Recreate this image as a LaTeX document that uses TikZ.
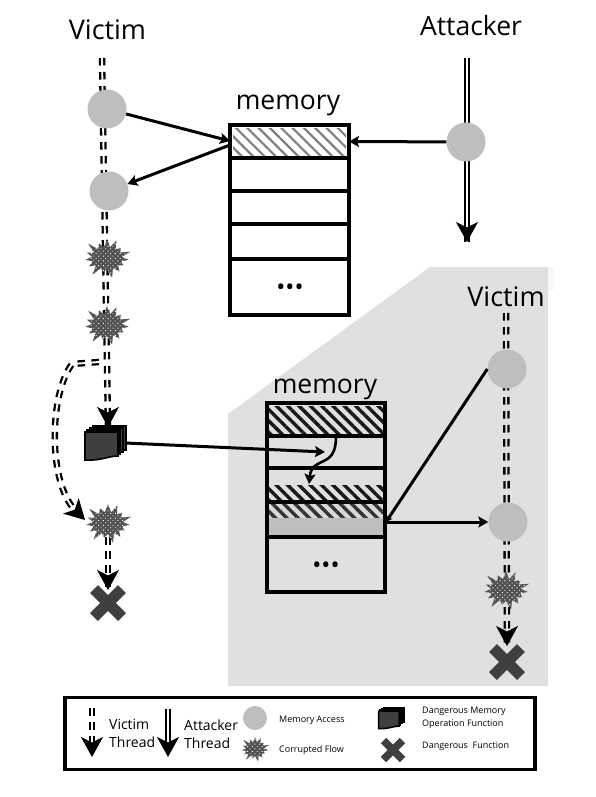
\documentclass[tikz,border=0pt]{standalone}
\usepackage{fontspec}
\setmainfont{Open Sans}
\usetikzlibrary{arrows.meta,patterns,patterns.meta,shapes.symbols}
\definecolor{panelgray}{HTML}{E0E0E0}
\definecolor{accessgray}{HTML}{BEBEBE}
\definecolor{darkmark}{HTML}{3F3F3F}
\newcommand{\fsz}[1]{\fontsize{#1}{#1}\selectfont}
\tikzset{
  thread base/.style={line width=6.5pt, draw=black, postaction={draw=#1, line width=1.9pt, solid}},
  vthread/.style={thread base=#1, dash pattern=on 7.5pt off 6.5pt},
  vthread/.default=white,
  athread/.style={thread base=white},
  tiphead/.style={line width=1pt, black, solid, -{Stealth[length=20pt,width=22pt,inset=5.5pt]}},
  access/.style={circle, fill=accessgray, inner sep=0pt, minimum size=#1},
  access/.default=39pt,
  burst/.style={starburst, starburst points=15, starburst point height=11pt, fill=black!68, minimum width=52pt, minimum height=44pt, inner sep=0pt,
     postaction={pattern={Dots[distance=3.4pt,angle=45,radius=0.65pt]}, pattern color=white}},
  cell/.style={rectangle, draw=black, line width=3.6pt, inner sep=0pt, outer sep=0pt},
  link/.style={line width=3pt, black, -{Stealth[length=10pt,width=11pt,inset=2pt]}},
  hatchb/.style={pattern={Lines[angle=-45,distance=8pt,line width=3.4pt]}, pattern color=#1},
  hatchg/.style={pattern={Lines[angle=-45,distance=8pt,line width=2.2pt]}, pattern color=#1},
  title/.style={font=\fsz{26.5}},
  bigtitle/.style={font=\fsz{27}},
  legtext/.style={font=\fontsize{14}{18}\selectfont, align=left, anchor=west, inner sep=0pt},
  legsmall/.style={font=\fontsize{9}{12.5}\selectfont, align=left, anchor=west, inner sep=0pt},
  dots/.style={font=\fsz{24}},
  pics/deadx/.style={code={
    \draw[darkmark, line width=#1*0.4pt] (-#1*0.5pt,-#1*0.5pt) -- (#1*0.5pt,#1*0.5pt);
    \draw[darkmark, line width=#1*0.4pt] (-#1*0.5pt,#1*0.5pt) -- (#1*0.5pt,-#1*0.5pt);
  }},
  pics/docstack/.style={code={
    \begin{scope}[scale=#1]
    \foreach \d in {8,5,2}{
      \filldraw[fill=darkmark, draw=black, line width=1.6pt]
        (-20+\d,-12-\d*0.6) -- (13+\d,-12-\d*0.6) -- (13+\d,12-\d*0.6) -- (-20+\d,12-\d*0.6) -- cycle;
    }
    \filldraw[fill=darkmark, draw=black, line width=1.6pt]
      (-20,-11) -- (13,-11) -- (13,13) .. controls (3,13) and (-4,18) .. (-20,17) -- cycle;
    \end{scope}
  }}
}
\begin{document}
\begin{tikzpicture}[x=1pt,y=-1pt]
\useasboundingbox (0,0) rectangle (596,797);
% panel
\fill[black!3] (548,267) rectangle (554,290);
\fill[panelgray] (228,414) -- (430,267) -- (548,267) -- (548,686) -- (228,686) -- cycle;

% anchors of the thread stations
\coordinate (vtop) at (102,58);
\coordinate (pa) at (107,109);
\coordinate (pb) at (109,191);
\coordinate (pc) at (107,258);
\coordinate (pd) at (107,325);
\coordinate (ftail) at (108,412);
\coordinate (ftip) at (108,427);
\coordinate (pe) at (108,523);
\coordinate (xtail) at (108,575);
\coordinate (xtip) at (108,590);
\coordinate (branch) at (99,362);
\coordinate (ctail) at (75,510);
\coordinate (ctip) at (85,520);
\coordinate (atop) at (467,58);
\coordinate (atail) at (467,230);
\coordinate (atip) at (467,242);
\coordinate (wtop) at (506,313);
\coordinate (pf) at (507,369);
\coordinate (pg) at (508,522);
\coordinate (ph) at (506,590);
\coordinate (wtail) at (507,632);
\coordinate (wtip) at (507,646);

% threads
\draw[vthread] (vtop) -- (ftip);
\draw[tiphead] (ftail) -- (ftip);
\draw[vthread] (branch) -- (72,364) .. controls (49,395) and (48,482) .. (ctail);
\draw[tiphead] (ctail) -- (ctip);
\draw[vthread] (pe) -- (xtip);
\draw[tiphead] (xtail) -- (xtip);
\draw[athread] (atop) -- (atip);
\draw[tiphead] (atail) -- (atip);
\draw[vthread=panelgray] (wtop) -- (wtip);
\draw[tiphead] (wtail) -- (wtip);

% stations
\node[access] (ca) at (pa) {};
\node[access] (cb) at (pb) {};
\node[burst] (sa) at (pc) {};
\node[burst] (sb) at (pd) {};
\node[burst] (sc) at (pe) {};
\node[access] (cc) at (466,142) {};
\node[access] (cd) at (pf) {};
\node[access] (ce) at (pg) {};
\node[burst] (sd) at (ph) {};
\pic at (108,603) {deadx=28};
\pic at (507,662) {deadx=28};
\pic at (105,443) {docstack=1};
\node[inner sep=0pt, minimum width=41pt, minimum height=34pt] (file) at (104.5,443) {};

% top memory
\fill[hatchg=black!50] (233,128) rectangle (346,155);
\node[cell, minimum width=119pt, minimum height=33pt] (m1) at (289.5,141.5) {};
\node[cell, minimum width=119pt, minimum height=33pt] (m2) at (289.5,174.5) {};
\node[cell, minimum width=119pt, minimum height=33pt] (m3) at (289.5,207.5) {};
\node[cell, minimum width=119pt, minimum height=35pt] (m4) at (289.5,241.5) {};
\node[cell, minimum width=119pt, minimum height=56pt] (m5) at (289.5,287) {};
\node[dots] at (290,290) {•••};
\node[title] (mlab) at (288,105) {memory};

% bottom memory
\fill[hatchb=black!90] (269,406) rectangle (383,433);
\fill[hatchb=black!90] (269,485) rectangle (383,500);
\fill[accessgray!60] (269,504) rectangle (383,518);
\fill[hatchb=black!80] (269,504) rectangle (383,518);
\fill[accessgray] (269,518) rectangle (383,535);
\node[cell, minimum width=118pt, minimum height=33pt] (n1) at (326,419.5) {};
\node[cell, minimum width=118pt, minimum height=32pt] (n2) at (326,452) {};
\node[cell, minimum width=118pt, minimum height=34pt] (n3) at (326,485) {};
\node[cell, minimum width=118pt, minimum height=35pt] (n4) at (326,519.5) {};
\node[cell, minimum width=118pt, minimum height=55pt] (n5) at (326,564.5) {};
\node[dots] at (326,568) {•••};
\node[title] (nlab) at (325,389) {memory};

% titles
\node[bigtitle] (tv) at (107.5,30) {Victim};
\node[title] (ta) at (471,26) {Attacker};
\node[bigtitle] (tw) at (506,297) {Victim};

% links
\coordinate (ma) at (230,141);
\coordinate (mb) at (230,145);
\coordinate (nr) at (386,522);
\coordinate (fend) at (325,452);
\draw[link] (ca) -- (ma);
\draw[link] (mb) -- (cb);
\draw[link] (cc) -- (m1.east);
\draw[link] (file.east) -- (fend);
\draw[link, line width=2.6pt] (336,437) .. controls (336,470) and (312,455) .. (309,484);
\draw[line width=3pt, black, -{Stealth[length=6pt,width=7pt,inset=1pt]}] (cd.west) -- (nr);
\draw[link] (nr) -- (ce);

% legend
\node[cell, minimum width=470pt, minimum height=72pt] (leg) at (300,733.5) {};
\coordinate (l1a) at (92,708);
\coordinate (l1b) at (92,757);
\coordinate (l1c) at (92,745);
\coordinate (l2a) at (168,709);
\coordinate (l2b) at (168,757);
\coordinate (l2c) at (168,745);
\draw[vthread] (l1a) -- (l1c);
\draw[tiphead] (l1c) -- (l1b);
\draw[athread] (l2a) -- (l2c);
\draw[tiphead] (l2c) -- (l2b);
\node[legtext] at (109,733) {Victim\\Thread};
\node[legtext] at (184,734) {Attacker\\Thread};
\node[access=24pt] (lc) at (255,718) {};
\node[burst, minimum width=32pt, minimum height=28pt, starburst point height=7pt] (ls) at (255,749) {};
\node[legsmall] at (279,720) {Memory Access};
\node[legsmall] at (279,750) {Corrupted Flow};
\pic at (391,718) {docstack=0.62};
\node[legsmall] at (422,718) {Dangerous Memory\\Operation Function};
\pic at (393,750) {deadx=19};
\node[legsmall] at (422,746) {Dangerous\ \ Function};
\end{tikzpicture}
\end{document}
